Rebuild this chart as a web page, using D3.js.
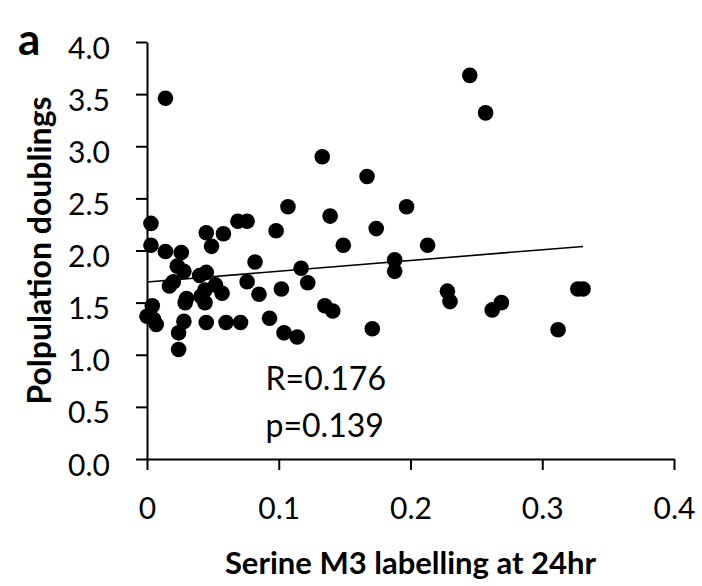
<!DOCTYPE html>
<html>
<head>
<meta charset="utf-8">
<script src="https://cdn.jsdelivr.net/npm/d3@7"></script>
<style>
  html, body { margin: 0; padding: 0; background: #fff; }
  svg text { font-family: Lato, "Open Sans", sans-serif; fill: #000; }
</style>
</head>
<body>
<svg id="chart" width="702" height="586"></svg>
<script>
// Serine M3 labelling at 24hr (x) vs population doublings (y), one entry per cell line
const serineM3 = [
  0.003, 0.003, 0.014, 0.026, 0.023, 0.028, 0.020, 0.017, 0.045, 0.049,
  0.058, 0.069, 0.076, 0.082, 0.045, 0.040, 0.076, 0.052, 0.057, 0.044,
  0.041, 0.044, 0.030, 0.029, 0.085, 0.004, 0.000, 0.007, 0.005, 0.028,
  0.024, 0.024, 0.045, 0.060, 0.071, 0.093, 0.107, 0.098, 0.139, 0.174,
  0.149, 0.117, 0.122, 0.102, 0.135, 0.141, 0.104, 0.114, 0.171, 0.197,
  0.213, 0.188, 0.188, 0.228, 0.230, 0.269, 0.262, 0.245, 0.257, 0.014,
  0.133, 0.167, 0.327, 0.331, 0.312
];
const doublings = [
  2.26, 2.05, 1.99, 1.98, 1.85, 1.80, 1.70, 1.66, 2.17, 2.04,
  2.16, 2.28, 2.28, 1.89, 1.79, 1.76, 1.70, 1.67, 1.59, 1.62,
  1.56, 1.50, 1.54, 1.50, 1.58, 1.47, 1.37, 1.29, 1.34, 1.32,
  1.21, 1.05, 1.31, 1.31, 1.31, 1.35, 2.42, 2.19, 2.33, 2.21,
  2.05, 1.83, 1.69, 1.63, 1.47, 1.42, 1.21, 1.17, 1.25, 2.42,
  2.05, 1.91, 1.80, 1.61, 1.51, 1.50, 1.43, 3.68, 3.32, 3.46,
  2.90, 2.71, 1.63, 1.63, 1.24
];

// Linear trend: [intercept, slope] and the x-range it spans
const trendFit = [1.698, 1.03];
const trendRange = [0, 0.331];

const xTicks = [0, 0.1, 0.2, 0.3, 0.4];
const yTicks = [0, 0.5, 1.0, 1.5, 2.0, 2.5, 3.0, 3.5, 4.0];
const statLines = ["R=0.176", "p=0.139"];

const svg = d3.select("#chart");
const margin = { left: 147, right: 28, top: 42, bottom: 127 };
const W = 702, H = 586;

const x = d3.scaleLinear().domain([0, 0.4]).range([margin.left, W - margin.right]);
const y = d3.scaleLinear().domain([0, 4]).range([H - margin.bottom, margin.top]);

// axes
const xAxis = svg.append("g")
  .attr("transform", `translate(0,${y(0)})`)
  .call(d3.axisBottom(x).tickValues(xTicks).tickSize(11).tickSizeOuter(0)
    .tickFormat(d => d === 0 ? "0" : d3.format(".1f")(d)));
const yAxis = svg.append("g")
  .attr("transform", `translate(${x(0)},0)`)
  .call(d3.axisLeft(y).tickValues(yTicks).tickSize(11).tickSizeOuter(0)
    .tickFormat(d3.format(".1f")));

[xAxis, yAxis].forEach(g => {
  g.selectAll("path.domain").attr("stroke", "#000").attr("stroke-width", 2);
  g.selectAll(".tick line").attr("stroke", "#000").attr("stroke-width", 2);
  g.selectAll(".tick text").attr("font-size", 30)
    .attr("font-family", "Lato, 'Open Sans', sans-serif").attr("fill", "#000");
});
xAxis.selectAll(".tick text").attr("dy", 0).attr("y", 60);
yAxis.selectAll(".tick text").attr("dy", 0).attr("x", -37).attr("y", 16);

// trend line
svg.append("line")
  .attr("x1", x(trendRange[0])).attr("y1", y(trendFit[0] + trendFit[1] * trendRange[0]))
  .attr("x2", x(trendRange[1])).attr("y2", y(trendFit[0] + trendFit[1] * trendRange[1]))
  .attr("stroke", "#000").attr("stroke-width", 1.6);

// points
svg.append("g").selectAll("circle")
  .data(serineM3.map((v, i) => [v, doublings[i]]))
  .join("circle")
  .attr("cx", d => x(d[0]))
  .attr("cy", d => y(d[1]))
  .attr("r", 7.8)
  .attr("fill", "#000");

// correlation statistics
svg.append("g").selectAll("text")
  .data(statLines)
  .join("text")
  .attr("x", x(0.09))
  .attr("y", (d, i) => y(0.665) + i * 47)
  .attr("font-size", 32)
  .text(d => d);

// axis titles
svg.append("text")
  .attr("x", (x(0) + x(0.4)) / 2).attr("y", 574)
  .attr("text-anchor", "middle").attr("font-size", 31).attr("font-weight", "bold")
  .text("Serine M3 labelling at 24hr");
svg.append("text")
  .attr("transform", `translate(51,${(y(0) + y(4)) / 2}) rotate(-90)`)
  .attr("text-anchor", "middle").attr("font-size", 32).attr("font-weight", "bold")
  .text("Polpulation doublings");

// panel letter
svg.append("text")
  .attr("x", 18).attr("y", 55)
  .attr("font-size", 44).attr("font-weight", "bold")
  .text("a");
</script>
</body>
</html>
